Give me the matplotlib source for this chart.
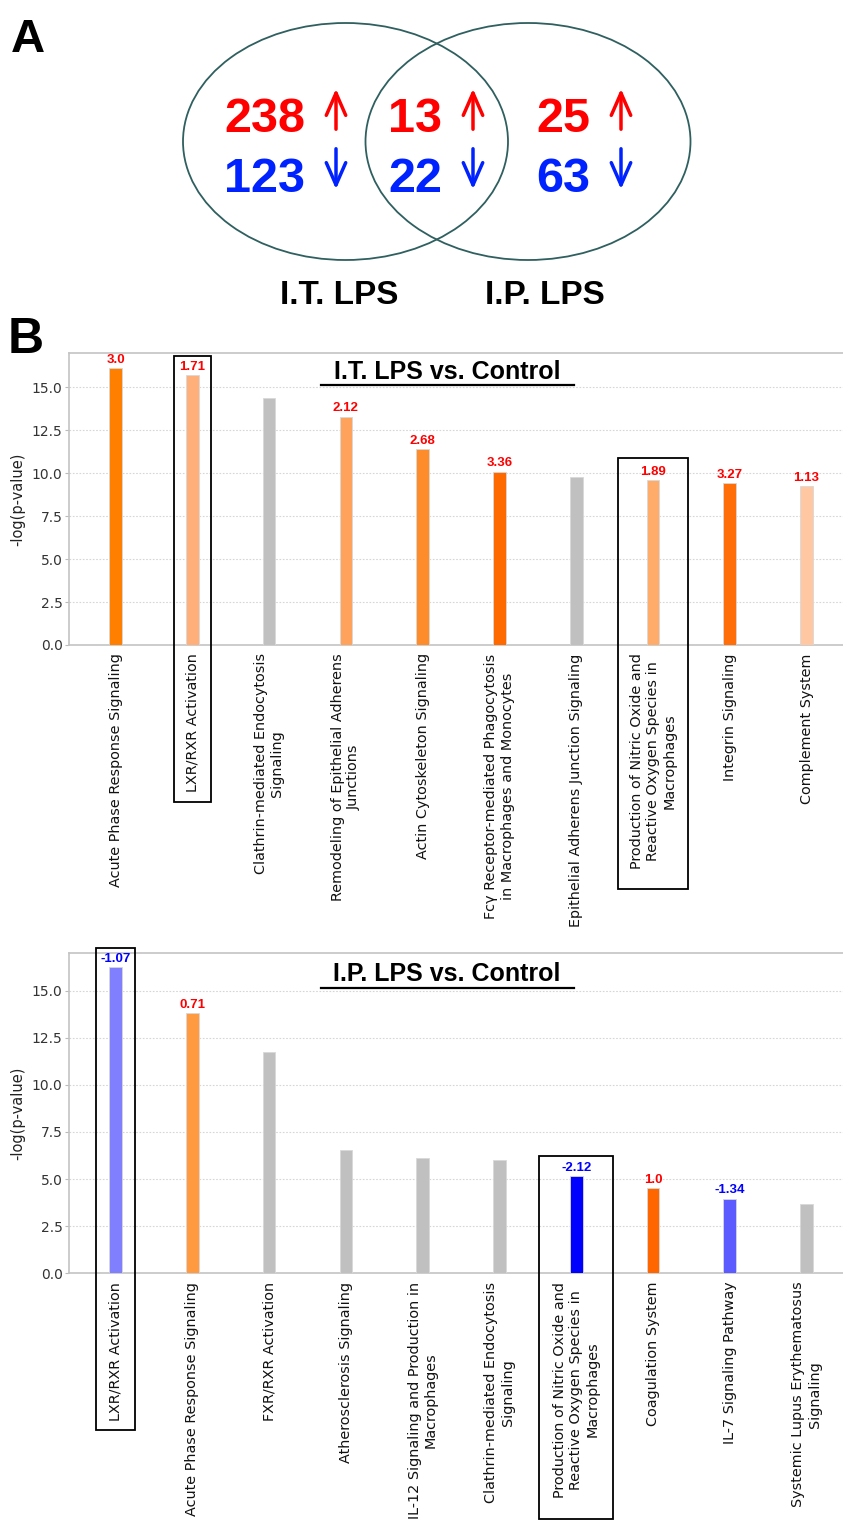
import matplotlib
matplotlib.use("Agg")
import matplotlib.pyplot as plt
from matplotlib.patches import Ellipse, Rectangle
from matplotlib.transforms import blended_transform_factory
import numpy as np

W, H = 843, 1535
BOLD = ['Liberation Sans', 'DejaVu Sans']

# panel A: Venn counts (I.T. only, shared, I.P. only)
venn_up = [238, 13, 25]
venn_down = [123, 22, 63]
venn_sets = ['I.T. LPS', 'I.P. LPS']

# panel B top: I.T. LPS vs. Control
it_pathways = [
    'Acute Phase Response Signaling',
    'LXR/RXR Activation',
    'Clathrin-mediated Endocytosis\nSignaling',
    'Remodeling of Epithelial Adherens\nJunctions',
    'Actin Cytoskeleton Signaling',
    'Fcγ Receptor-mediated Phagocytosis\nin Macrophages and Monocytes',
    'Epithelial Adherens Junction Signaling',
    'Production of Nitric Oxide and\nReactive Oxygen Species in\nMacrophages',
    'Integrin Signaling',
    'Complement System',
]
it_logp = [16.1, 15.7, 14.4, 13.3, 11.4, 10.1, 9.8, 9.6, 9.45, 9.25]
it_z = [3.0, 1.71, None, 2.12, 2.68, 3.36, None, 1.89, 3.27, 1.13]
it_colors = ['#ff7f00', '#ffb07a', '#c0c0c0', '#ffa35c', '#ff8c2a',
             '#ff6a00', '#c0c0c0', '#ffab6a', '#ff6e08', '#ffc8a2']

# panel B bottom: I.P. LPS vs. Control
ip_pathways = [
    'LXR/RXR Activation',
    'Acute Phase Response Signaling',
    'FXR/RXR Activation',
    'Atherosclerosis Signaling',
    'IL-12 Signaling and Production in\nMacrophages',
    'Clathrin-mediated Endocytosis\nSignaling',
    'Production of Nitric Oxide and\nReactive Oxygen Species in\nMacrophages',
    'Coagulation System',
    'IL-7 Signaling Pathway',
    'Systemic Lupus Erythematosus\nSignaling',
]
ip_logp = [16.25, 13.83, 11.73, 6.57, 6.12, 6.0, 5.16, 4.52, 3.97, 3.7]
ip_z = [-1.07, 0.71, None, None, None, None, -2.12, 1.0, -1.34, None]
ip_colors = ['#8080ff', '#ff9a40', '#c0c0c0', '#c0c0c0', '#c0c0c0',
             '#c0c0c0', '#0000ff', '#ff6600', '#5b5bff', '#c0c0c0']


def px_axes(fig, left, top, right, bottom):
    return fig.add_axes([left / W, 1 - bottom / H, (right - left) / W, (bottom - top) / H])


fig = plt.figure(figsize=(W / 100, H / 100), dpi=100)

# ---- panel A: Venn ----
av = px_axes(fig, 0, 0, W, 340)
av.set_xlim(0, W)
av.set_ylim(340, 0)
av.axis('off')
for cx in (345.5, 528):
    av.add_patch(Ellipse((cx, 141.5), 325, 237, fill=False, ec='#2f5f5f', lw=1.3))

num_x = [305, 442, 590]
arr_x = [336, 473, 621]
for i in range(3):
    av.text(num_x[i], 132, str(venn_up[i]), ha='right', va='baseline',
            fontsize=35, fontweight='bold', color='#ff0000', family=BOLD)
    av.text(num_x[i], 192, str(venn_down[i]), ha='right', va='baseline',
            fontsize=35, fontweight='bold', color='#0022ff', family=BOLD)
    av.annotate('', xy=(arr_x[i], 86), xytext=(arr_x[i], 132),
                arrowprops=dict(arrowstyle='->,head_length=0.8,head_width=0.35',
                                lw=2.5, color='#ff0000', mutation_scale=20))
    av.annotate('', xy=(arr_x[i], 192), xytext=(arr_x[i], 146),
                arrowprops=dict(arrowstyle='->,head_length=0.8,head_width=0.35',
                                lw=2.5, color='#0022ff', mutation_scale=20))
for cx, name in zip((339, 544.5), venn_sets):
    av.text(cx, 304, name, ha='center', va='baseline', fontsize=24,
            fontweight='bold', color='black', family=BOLD)

fig.text(11 / W, 1 - 52 / H, 'A', fontsize=34, fontweight='bold', family=BOLD, va='baseline')
fig.text(8 / W, 1 - 353 / H, 'B', fontsize=36, fontweight='bold', family=BOLD, va='baseline')


def bar_panel(ax, labels, logp, zs, colors, title, boxes):
    x = np.arange(len(labels))
    ax.bar(x, logp, width=0.165, color=colors, edgecolor='#d8d8d8', linewidth=0.6, zorder=3)
    ax.set_xlim(-0.61, 9.475)
    ax.set_ylim(0, 17)
    ax.set_yticks(np.arange(0, 15.1, 2.5))
    ax.set_yticklabels(['%.1f' % v for v in np.arange(0, 15.1, 2.5)])
    ax.yaxis.grid(True, linestyle=(0, (1.5, 1.5)), color='#d6d6d6', lw=0.8, zorder=0)
    ax.set_axisbelow(True)
    ax.set_xticks(x)
    ax.set_xticklabels(labels, rotation=90, va='top', ha='center',
                       multialignment='center', fontsize=10.4, color='#111111')
    ax.tick_params(axis='x', length=0, pad=6)
    ax.tick_params(axis='y', length=3, pad=1.5, color='#bbbbbb', labelsize=10,
                   labelcolor='#333333')
    for s in ('left', 'bottom', 'top'):
        ax.spines[s].set_color('#c4c4c4')
        ax.spines[s].set_linewidth(1.2)
    ax.spines['right'].set_visible(False)
    ax.set_ylabel('-log(p-value)', fontsize=10.5, labelpad=5, color='#222222')
    for xi, v, z in zip(x, logp, zs):
        if z is None:
            continue
        ax.annotate(str(z), (xi, v), xytext=(0, 1.5), textcoords='offset points',
                    ha='center', va='bottom', fontsize=9.5, fontweight='bold',
                    color='#ff0000' if z > 0 else '#0000ff', family=BOLD)
    ax.text(0.4885, 0.935, title, transform=ax.transAxes, ha='center', va='center',
            fontsize=18, fontweight='bold', family=BOLD)
    ax.plot([0.326, 0.652], [0.89, 0.89], transform=ax.transAxes, color='black', lw=1.6)
    tr = blended_transform_factory(ax.transData, ax.transAxes)
    for idx, hw, y0, y1 in boxes:
        ax.add_patch(Rectangle((idx - hw, y0), 2 * hw, y1 - y0, transform=tr, fill=False,
                               ec='black', lw=1.3, clip_on=False, zorder=5))


ax1 = px_axes(fig, 68.8, 353, 843, 645)
bar_panel(ax1, it_pathways, it_logp, it_z, it_colors, 'I.T. LPS vs. Control',
          [(1, 0.243, -0.536, 0.99), (7, 0.45, -0.836, 0.64)])

ax2 = px_axes(fig, 68.8, 953, 843, 1273.3)
bar_panel(ax2, ip_pathways, ip_logp, ip_z, ip_colors, 'I.P. LPS vs. Control',
          [(0, 0.255, -0.489, 1.015), (6, 0.48, -0.767, 0.366)])

fig.savefig('out.png', dpi=100)
